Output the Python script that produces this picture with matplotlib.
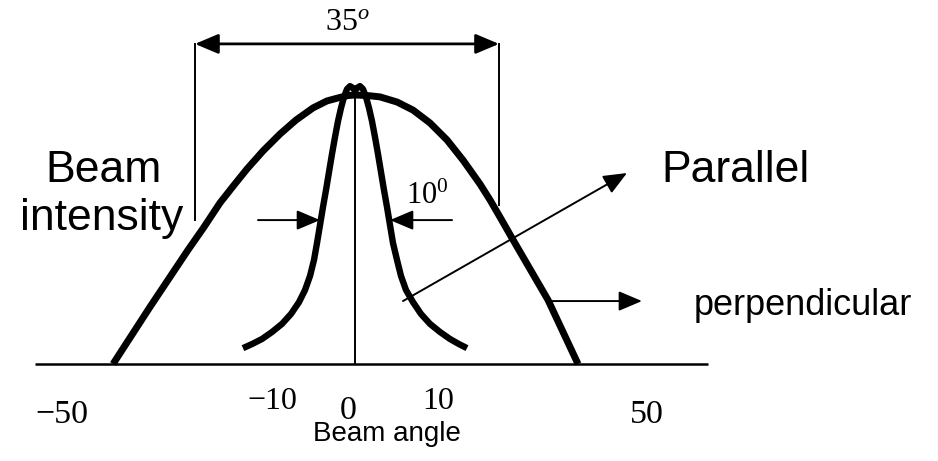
import matplotlib
matplotlib.use("Agg")
import matplotlib.pyplot as plt

plt.rcParams["mathtext.fontset"] = "custom"
plt.rcParams["mathtext.rm"] = "Liberation Serif"
plt.rcParams["mathtext.it"] = "Liberation Serif:italic"

# Broad (perpendicular) beam profile: angle vs relative intensity
broad_angle = [-40.33, -34.17, -27.83, -25.17, -22.5, -20.17, -18.0, -15.33,
               -12.5, -9.83, -7.0, -4.67, -2.5, -1.17, 0.0, 1.17, 2.5, 4.17,
               7.0, 9.67, 12.5, 15.33, 18.0, 20.83, 22.5, 24.17, 26.17,
               29.17, 32.17, 34.67, 37.17]
broad_intensity = [0.0, 0.212, 0.424, 0.509, 0.599, 0.665, 0.725, 0.792,
                   0.855, 0.907, 0.952, 0.978, 0.991, 0.998, 1.0, 0.999,
                   0.997, 0.993, 0.974, 0.944, 0.896, 0.833, 0.758, 0.669,
                   0.610, 0.546, 0.468, 0.353, 0.238, 0.119, 0.0]

# Narrow (parallel) beam profile
narrow_angle = [-18.67, -17.17, -15.5, -13.83, -12.17, -10.67, -9.33, -8.33,
                -7.5, -6.83, -6.33, -5.83, -5.33, -4.83, -4.33, -3.83, -3.33,
                -2.83, -2.33, -1.83, -1.33, -0.83, -0.33, 0.0, 0.33, 0.83,
                1.33, 1.83, 2.33, 2.83, 3.33, 3.83, 4.33, 4.83, 5.33, 5.83,
                6.33, 7.0, 7.67, 8.5, 9.67, 11.0, 12.5, 14.17, 15.83, 17.33,
                18.67]
narrow_intensity = [0.059, 0.074, 0.093, 0.119, 0.149, 0.186, 0.230, 0.275,
                    0.327, 0.387, 0.450, 0.517, 0.584, 0.647, 0.714, 0.781,
                    0.844, 0.903, 0.952, 0.993, 1.022, 1.033, 1.026, 1.015,
                    1.026, 1.033, 1.022, 0.993, 0.952, 0.903, 0.844, 0.781,
                    0.714, 0.647, 0.584, 0.517, 0.450, 0.387, 0.327, 0.275,
                    0.230, 0.186, 0.149, 0.119, 0.093, 0.074, 0.059]

tick_labels = ["\u221250", "\u221210", "0", "10", "50"]
tick_x = [-48.8, -13.7, -1.2, 13.9, 48.7]
tick_y = [-0.19, -0.141, -0.175, -0.141, -0.19]
tick_size = [24.5, 23, 24.5, 23, 24.5]

wide_width_label = r"$35^{o}$"
narrow_width_label = r"$10^{0}$"

fig = plt.figure(figsize=(9.38, 4.61), dpi=100)
ax = fig.add_axes([0, 0, 1, 1])
ax.set_xlim(-355 / 6, 583 / 6)
ax.set_ylim(-0.3606, 1.3532)
ax.axis("off")

# baseline and centre line
ax.plot([-53.3, 58.8], [0, 0], color="black", lw=1.8, solid_capstyle="butt")
ax.plot([0, 0], [0, 1.02], color="black", lw=1.4, solid_capstyle="butt")

# profiles
ax.plot(broad_angle, broad_intensity, color="black", lw=5.0,
        solid_capstyle="butt", solid_joinstyle="round")
ax.plot(narrow_angle, narrow_intensity, color="black", lw=4.6,
        solid_capstyle="butt", solid_joinstyle="round")

arrow_kw = dict(color="black", lw=1.4, shrinkA=0, shrinkB=0,
                mutation_scale=11)
head = "-|>,head_length=1.3,head_width=0.55"

# 35 degree width marker
ax.plot([-26.67, -26.67], [1.19, 0.535], color="black", lw=1.4)
ax.plot([24.0, 24.0], [1.19, 0.591], color="black", lw=1.4)
ax.annotate("", xy=(24.0, 1.19), xytext=(-26.67, 1.19),
            arrowprops=dict(arrowstyle="<|-|>,head_length=1.3,head_width=0.55",
                            **dict(arrow_kw, lw=2.0)))
ax.text(-1.25, 1.275, wide_width_label, fontsize=23, ha="center",
        va="center")

# 10 degree width marker
ax.annotate("", xy=(-5.83, 0.535), xytext=(-16.17, 0.535),
            arrowprops=dict(arrowstyle=head, **arrow_kw))
ax.annotate("", xy=(5.83, 0.535), xytext=(16.17, 0.535),
            arrowprops=dict(arrowstyle=head, **arrow_kw))
ax.text(8.5, 0.625, narrow_width_label, fontsize=22, ha="left", va="center")

# curve callouts
ax.annotate("", xy=(45.33, 0.710), xytext=(8.0, 0.234),
            arrowprops=dict(arrowstyle=head, **arrow_kw))
ax.annotate("", xy=(47.83, 0.234), xytext=(32.17, 0.234),
            arrowprops=dict(arrowstyle=head, **arrow_kw))

sans = "Liberation Sans"
ax.text(-51.6, 0.677, "Beam", fontsize=32, family=sans, va="baseline",
        ha="left")
ax.text(-55.8, 0.498, "intensity", fontsize=32, family=sans, va="baseline",
        ha="left")
ax.text(51.0, 0.677, "Parallel", fontsize=32, family=sans, va="baseline",
        ha="left")
ax.text(56.5, 0.182, "perpendicular", fontsize=26, family=sans,
        va="baseline", ha="left")
ax.text(5.25, -0.286, "Beam angle", fontsize=20, family=sans,
        va="baseline", ha="center")

for lab, x, y, s in zip(tick_labels, tick_x, tick_y, tick_size):
    ax.text(x, y, lab, fontsize=s, ha="center", va="center",
            family=["Liberation Serif", "DejaVu Serif"])

fig.savefig("out.png", dpi=100)
